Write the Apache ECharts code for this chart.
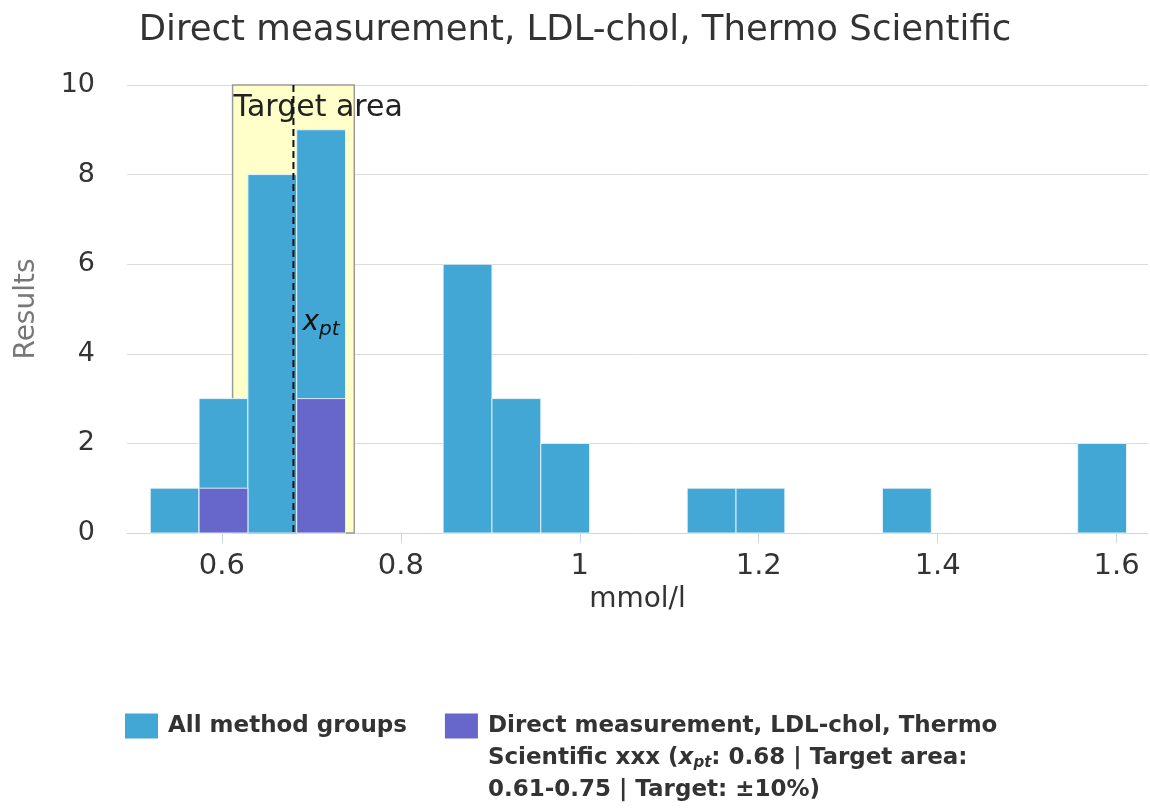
<!DOCTYPE html>
<html>
<head>
<meta charset="utf-8">
<script src="https://cdn.jsdelivr.net/npm/echarts@6/dist/echarts.min.js"></script>
<style>html,body{margin:0;padding:0;background:#fff}#c{width:1150px;height:811px}</style>
</head>
<body>
<div id="c"></div>
<script>
// ---- data ----
var titleText = 'Direct measurement, LDL-chol, Thermo Scientific';
var seriesNames = ['All method groups', 'Direct measurement, LDL-chol, Thermo Scientific xxx (xpt: 0.68 | Target area: 0.61-0.75 | Target: ±10%)'];
var binStart = 0.520;
var binWidth = 0.05455;
var allCounts = [1, 3, 8, 9, 0, 0, 6, 3, 2, 0, 0, 1, 1, 0, 0, 1, 0, 0, 0, 2];
var groupCounts = [0, 1, 0, 3, 0, 0, 0, 0, 0, 0, 0, 0, 0, 0, 0, 0, 0, 0, 0, 0];
var xTicks = [0.6, 0.8, 1, 1.2, 1.4, 1.6];
var xpt = 0.68;
var targetLow = 0.612;
var targetHigh = 0.748;

// ---- build ----
function toBins(counts) {
  var out = [];
  for (var i = 0; i < counts.length; i++) {
    if (counts[i] > 0) out.push([binStart + i * binWidth, binStart + (i + 1) * binWidth, counts[i]]);
  }
  return out;
}
function renderBar(params, api) {
  var p0 = api.coord([api.value(0), api.value(2)]);
  var p1 = api.coord([api.value(1), 0]);
  return {
    type: 'rect',
    shape: { x: p0[0], y: p0[1], width: p1[0] - p0[0], height: p1[1] - p0[1] },
    style: { fill: api.visual('color'), stroke: 'rgba(235,245,250,0.9)', lineWidth: 1 }
  };
}
var FONT = '"DejaVu Sans", Verdana, sans-serif';
var chart = echarts.init(document.getElementById('c'), null, { renderer: 'canvas' });
var option = {
  animation: false,
  textStyle: { fontFamily: FONT },
  title: {
    text: titleText, left: 'center', top: 8,
    textStyle: { fontFamily: FONT, fontSize: 35.5, fontWeight: 'normal', color: '#333' }
  },
  grid: { left: 127, right: 2, top: 85, bottom: 278, outerBoundsMode: 'none', containLabel: false },
  xAxis: {
    type: 'value', min: 0.494, max: 1.635,
    name: 'mmol/l', nameLocation: 'middle', nameGap: 45,
    nameTextStyle: { fontSize: 28, color: '#333', fontFamily: FONT },
    axisLine: { show: true, lineStyle: { color: '#ccd6eb', width: 1 } },
    axisTick: { show: true, length: 10, lineStyle: { color: '#ccd6eb' }, customValues: xTicks },
    axisLabel: { customValues: xTicks, fontSize: 29, color: '#333', margin: 19, fontFamily: FONT },
    splitLine: { show: false }
  },
  yAxis: {
    type: 'value', min: 0, max: 10, interval: 2,
    name: 'Results', nameLocation: 'middle', nameGap: 86,
    nameTextStyle: { fontSize: 28, color: '#777', fontFamily: FONT },
    axisLine: { show: false }, axisTick: { show: false },
    axisLabel: { fontSize: 27, color: '#333', margin: 32, fontFamily: FONT },
    splitLine: { lineStyle: { color: '#dcdcdc', width: 1 } }
  },
  legend: {
    left: 120, top: 641, icon: 'rect', itemWidth: 33, itemHeight: 25, itemGap: 38,
    selectedMode: false,
    textStyle: {
      fontFamily: FONT, fontSize: 23, fontWeight: 'bold', color: '#333', lineHeight: 32,
      padding: [0, 0, 0, 5],
      rich: {
        xi: { fontFamily: FONT, fontSize: 23, fontWeight: 'bold', fontStyle: 'italic', color: '#333', lineHeight: 32 },
        sub: { fontFamily: FONT, fontSize: 15, fontWeight: 'bold', fontStyle: 'italic', color: '#333', lineHeight: 32, padding: [10, 0, 0, 0] }
      }
    },
    data: [
      { name: seriesNames[0] },
      { name: seriesNames[1], textStyle: { padding: [64, 0, 0, 5] } }
    ],
    formatter: function (name) {
      if (name === seriesNames[1]) {
        return 'Direct measurement, LDL-chol, Thermo\nScientific xxx ({xi|x}{sub|pt}: 0.68 | Target area:\n0.61-0.75 | Target: ±10%)';
      }
      return name;
    }
  },
  series: [
    {
      type: 'custom', name: 'band', z: 1, silent: true,
      data: [[targetLow, targetHigh]],
      renderItem: function (params, api) {
        var a = api.coord([api.value(0), 10]);
        var b = api.coord([api.value(1), 0]);
        return {
          type: 'group', children: [
            { type: 'rect', shape: { x: a[0], y: a[1], width: b[0] - a[0], height: b[1] - a[1] },
              style: { fill: '#ffffc9', stroke: '#9a9a9a', lineWidth: 1.5 } },
            { type: 'text', x: a[0] + 1, y: a[1] + 8,
              style: { text: 'Target area', fill: '#222', fontSize: 30, fontFamily: FONT, align: 'left', verticalAlign: 'top' } }
          ]
        };
      }
    },
    {
      type: 'custom', name: seriesNames[0], z: 2,
      itemStyle: { color: '#42a7d5' },
      data: toBins(allCounts), renderItem: renderBar
    },
    {
      type: 'custom', name: seriesNames[1], z: 3,
      itemStyle: { color: '#6766cb' },
      data: toBins(groupCounts), renderItem: renderBar
    },
    {
      type: 'custom', name: 'xpt', z: 4, silent: true,
      data: [[xpt]],
      renderItem: function (params, api) {
        var t = api.coord([api.value(0), 10]);
        var bt = api.coord([api.value(0), 0]);
        var mid = (t[1] + bt[1]) / 2;
        return {
          type: 'group', children: [
            { type: 'line', shape: { x1: t[0], y1: t[1], x2: bt[0], y2: bt[1] },
              style: { stroke: '#111', lineWidth: 2, lineDash: [7, 4] } },
            { type: 'text', x: t[0] + 9, y: mid + 14,
              style: { text: '{x|x}{s|pt}', verticalAlign: 'middle', align: 'left',
                rich: {
                  x: { fontFamily: FONT, fontSize: 28, fontStyle: 'italic', fill: '#111', color: '#111' },
                  s: { fontFamily: FONT, fontSize: 20, fontStyle: 'italic', fill: '#111', color: '#111', padding: [14, 0, 0, 0] }
                } } }
          ]
        };
      }
    }
  ]
};
chart.setOption(option);
</script>
</body>
</html>
